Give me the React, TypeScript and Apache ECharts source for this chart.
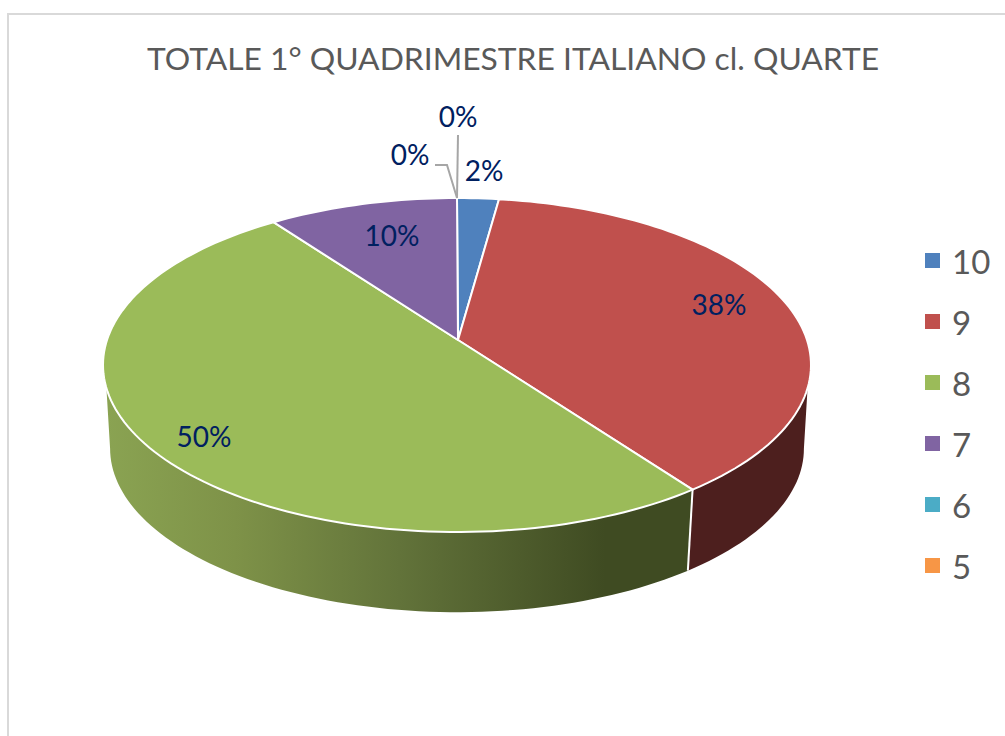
import React, { useEffect, useRef } from "react";
import * as echarts from "echarts";

const TITLE = "TOTALE 1° QUADRIMESTRE ITALIANO cl. QUARTE";
const categories = ["10", "9", "8", "7", "6", "5"];
const shares = [2.2, 37.72, 50.08, 10, 0, 0];
const colors = ["#4F81BD", "#C0504D", "#9BBB59", "#8064A2", "#4BACC6", "#F79646"];

// Perspective of the tilted disc
const APEX_X = 458;
const APEX_Y = 340;
const DEPTH_A = 112.36;
const DEPTH_C = -0.1497;
const WIDTH_A = 350;
const ELL_CX = 457;
const ELL_CY = 365;
const LOW_CY = 448.5;
const LOW_SCALE = 0.98;

const LABEL_FONT = "Lato, Carlito, Calibri, sans-serif";
const labelCenters = [
  [484, 170],
  [719, 304],
  [204, 436],
  [392, 235],
  [410, 154],
  [458, 116],
];
const leaders: number[][][] = [[], [], [], [], [[435, 165], [447, 165]], [[458, 135]]];

const total = shares.reduce((a, b) => a + b, 0);
const starts = shares.map((_, i) => (shares.slice(0, i).reduce((a, b) => a + b, 0) / total) * 360);

function top(deg: number): number[] {
  const r = (deg * Math.PI) / 180;
  const v = -Math.cos(r);
  const w = 1 + DEPTH_C * v;
  return [ELL_CX + (WIDTH_A * Math.sin(r)) / w, (APEX_Y + DEPTH_A * v) / w];
}
function low(deg: number): number[] {
  const p = top(deg);
  return [ELL_CX + LOW_SCALE * (p[0] - ELL_CX), LOW_CY + LOW_SCALE * (p[1] - ELL_CY)];
}
function arc(fn: (d: number) => number[], a: number, b: number): number[][] {
  const n = Math.max(2, Math.ceil(Math.abs(b - a) / 1.5));
  const out: number[][] = [];
  for (let i = 0; i <= n; i++) out.push(fn(a + ((b - a) * i) / n));
  return out;
}

// Where the visible side wall begins and ends on each rim
const TOP_RIM = [106.4, 253.6];
const LOW_RIM = [98.6, 261.4];

const wallFill = (i: number): any =>
  i === 2
    ? new echarts.graphic.LinearGradient(0, 0, 1, 0, [
        { offset: 0, color: "#8AA352" },
        { offset: 0.22, color: "#7E9248" },
        { offset: 0.5, color: "#62733A" },
        { offset: 0.85, color: "#3F4B22" },
        { offset: 1, color: "#3F4B22" },
      ])
    : "#4D1F1E";

function renderSlice(i: number) {
  return (_params: any, api: any) => {
    const value = api.value(0);
    const a = starts[i];
    const b = a + (value / total) * 360;
    const children: any[] = [];
    const ta = Math.max(a, TOP_RIM[0]);
    const tb = Math.min(b, TOP_RIM[1]);
    const la = Math.max(a, LOW_RIM[0]);
    const lb = Math.min(b, LOW_RIM[1]);
    if (value > 0 && ta < tb) {
      children.push({
        type: "polygon",
        z2: 1,
        shape: { points: [...arc(top, ta, tb), ...arc(low, lb, la)] },
        style: { fill: wallFill(i) },
      });
    }
    if (value > 0 && b > LOW_RIM[0] && b < LOW_RIM[1]) {
      children.push({
        type: "line",
        z2: 2,
        shape: { x1: top(b)[0], y1: top(b)[1], x2: low(b)[0], y2: low(b)[1] },
        style: { stroke: "#FFFFFF", lineWidth: 2 },
      });
    }
    if (value > 0) {
      children.push({
        type: "polygon",
        z2: 3,
        shape: { points: [[APEX_X, APEX_Y], ...arc(top, a, b)] },
        style: { fill: colors[i], stroke: "#FFFFFF", lineWidth: 2, lineJoin: "round" },
      });
    }
    if (leaders[i].length) {
      children.push({
        type: "polyline",
        z2: 4,
        shape: { points: [...leaders[i], top(b)] },
        style: { fill: "none", stroke: "#A6A6A6", lineWidth: 2 },
      });
    }
    children.push({
      type: "text",
      z2: 5,
      x: labelCenters[i][0],
      y: labelCenters[i][1],
      style: {
        text: `${Math.round(value)}%`,
        fill: "#002060",
        font: `28px ${LABEL_FONT}`,
        align: "center",
        verticalAlign: "middle",
      },
    });
    return { type: "group", children };
  };
}

export default function App() {
  const ref = useRef<HTMLDivElement>(null);
  useEffect(() => {
    document.body.style.margin = "0";
    const chart = echarts.init(ref.current!, undefined, { renderer: "svg" });
    chart.setOption({
      animation: false,
      backgroundColor: "#FFFFFF",
      title: {
        text: TITLE,
        left: 508,
        top: 37,
        textAlign: "center",
        textStyle: { color: "#595959", fontSize: 31.8, fontWeight: "normal", fontFamily: LABEL_FONT },
      },
      legend: {
        data: categories,
        orient: "vertical",
        left: 920,
        top: 239,
        icon: "rect",
        itemWidth: 15,
        itemHeight: 15,
        itemGap: 28,
        selectedMode: false,
        textStyle: {
          color: "#595959",
          fontSize: 33,
          lineHeight: 32,
          fontFamily: LABEL_FONT,
          padding: [0, 0, 0, 7],
        },
      },
      graphic: [
        {
          type: "polyline",
          silent: true,
          shape: { points: [[8, 736], [8, 14], [1005, 14]] },
          style: { fill: "none", stroke: "#D9D9D9", lineWidth: 2 },
        },
      ],
      series: categories.map((name, i) => ({
        type: "custom",
        name,
        coordinateSystem: "none",
        itemStyle: { color: colors[i] },
        renderItem: renderSlice(i),
        data: [shares[i]],
      })),
    });
    return () => chart.dispose();
  }, []);
  return <div ref={ref} style={{ position: "fixed", left: 0, top: 0, width: 1005, height: 736 }} />;
}
